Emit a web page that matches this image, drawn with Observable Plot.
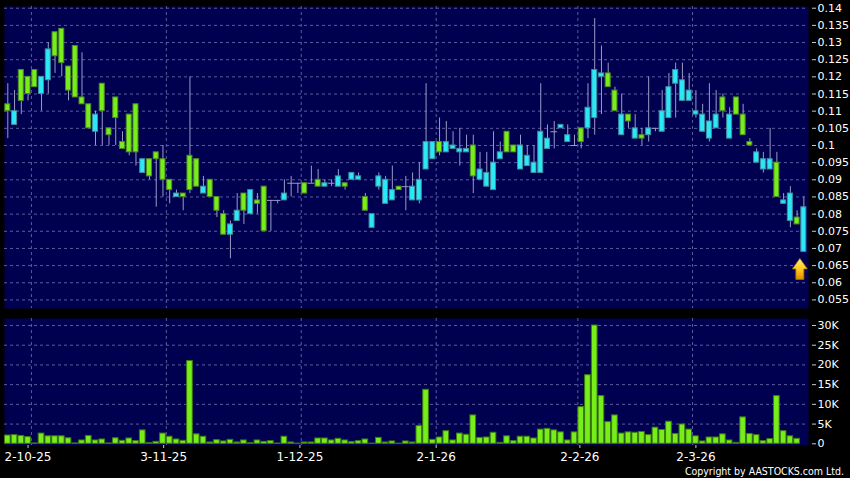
<!DOCTYPE html>
<html><head><meta charset="utf-8">
<script src="https://cdn.jsdelivr.net/npm/d3@7"></script>
<script src="https://cdn.jsdelivr.net/npm/@observablehq/plot@0.6"></script>
<style>
html,body{margin:0;padding:0;background:#000;}
#chart{position:relative;width:850px;height:478px;background:#000;overflow:hidden;}
#chart svg{display:block;}
#copy{position:absolute;right:6px;top:465px;line-height:12px;color:#fff;font-family:"DejaVu Sans Condensed","DejaVu Sans",sans-serif;font-stretch:condensed;font-size:10.5px;white-space:nowrap;}
</style></head><body>
<div id="chart"><div id="price"></div><div id="vol"></div><div id="copy">Copyright by AASTOCKS.com Ltd.</div></div>
<script>
const open = [0.110,0.110,0.113,0.115,0.117,0.120,0.128,0.126,0.124,0.116,
0.114,0.112,0.105,0.109,0.110,0.103,0.108,0.099,0.098,0.098,
0.096,0.091,0.096,0.090,0.087,0.086,0.085,0.087,0.088,0.088,
0.085,0.081,0.074,0.077,0.081,0.081,0.087,0.083,0.075,0.084,
0.084,0.086,0.089,0.089,0.086,0.089,0.088,0.089,0.089,0.091,
0.088,0.092,0.091,0.081,0.080,0.091,0.090,0.087,0.087,0.088,
0.088,0.090,0.101,0.101,0.098,0.101,0.100,0.099,0.099,0.091,
0.093,0.092,0.095,0.098,0.098,0.098,0.100,0.097,0.095,0.104,
0.102,0.104,0.106,0.103,0.100,0.101,0.111,0.122,0.121,0.117,
0.110,0.109,0.107,0.105,0.102,0.105,0.105,0.110,0.117,0.122,
0.119,0.116,0.110,0.109,0.107,0.109,0.110,0.109,0.109,0.103,
0.100,0.098,0.096,0.096,0.085,0.084,0.086,0.077,0.082];
const close = [0.112,0.106,0.122,0.120,0.122,0.115,0.119,0.133,0.134,0.123,
0.129,0.114,0.112,0.104,0.118,0.105,0.114,0.101,0.109,0.112,
0.092,0.096,0.098,0.096,0.090,0.085,0.086,0.097,0.096,0.086,
0.090,0.085,0.080,0.074,0.078,0.086,0.080,0.084,0.088,0.084,
0.084,0.084,0.089,0.089,0.089,0.089,0.090,0.088,0.089,0.088,
0.089,0.090,0.090,0.085,0.076,0.088,0.083,0.084,0.088,0.088,
0.084,0.084,0.093,0.096,0.101,0.098,0.099,0.098,0.098,0.100,
0.090,0.088,0.087,0.096,0.104,0.100,0.093,0.094,0.092,0.092,
0.099,0.104,0.105,0.101,0.100,0.105,0.105,0.108,0.120,0.121,
0.116,0.103,0.109,0.102,0.103,0.103,0.105,0.104,0.108,0.118,
0.113,0.113,0.109,0.104,0.102,0.105,0.114,0.102,0.114,0.109,
0.101,0.095,0.093,0.093,0.095,0.083,0.078,0.079,0.069];
const high = [0.118,0.116,0.122,0.120,0.122,0.120,0.130,0.133,0.134,0.123,
0.129,0.127,0.112,0.110,0.118,0.105,0.114,0.104,0.109,0.112,
0.096,0.096,0.098,0.100,0.090,0.087,0.086,0.120,0.096,0.091,
0.090,0.085,0.081,0.078,0.086,0.086,0.087,0.086,0.088,0.084,
0.084,0.090,0.091,0.089,0.089,0.094,0.093,0.090,0.090,0.093,
0.089,0.092,0.092,0.086,0.080,0.092,0.091,0.094,0.088,0.091,
0.092,0.095,0.118,0.101,0.108,0.107,0.104,0.105,0.103,0.103,
0.098,0.098,0.104,0.101,0.104,0.100,0.103,0.100,0.100,0.118,
0.106,0.107,0.106,0.106,0.103,0.105,0.118,0.137,0.129,0.124,
0.117,0.115,0.109,0.109,0.105,0.120,0.105,0.116,0.121,0.124,
0.124,0.121,0.116,0.112,0.118,0.116,0.115,0.111,0.114,0.112,
0.102,0.099,0.098,0.105,0.098,0.086,0.088,0.081,0.085];
const low = [0.102,0.106,0.109,0.113,0.117,0.110,0.115,0.121,0.120,0.113,
0.114,0.112,0.105,0.100,0.100,0.100,0.100,0.099,0.097,0.094,
0.092,0.090,0.082,0.085,0.083,0.085,0.081,0.086,0.088,0.086,
0.085,0.079,0.074,0.067,0.078,0.077,0.080,0.080,0.075,0.075,
0.083,0.084,0.085,0.086,0.086,0.089,0.088,0.088,0.088,0.088,
0.087,0.090,0.090,0.081,0.076,0.087,0.083,0.084,0.087,0.081,
0.084,0.083,0.093,0.096,0.097,0.098,0.099,0.094,0.098,0.086,
0.090,0.088,0.087,0.096,0.098,0.098,0.093,0.094,0.092,0.092,
0.099,0.099,0.105,0.101,0.100,0.099,0.102,0.103,0.109,0.117,
0.110,0.103,0.105,0.102,0.100,0.101,0.104,0.104,0.108,0.108,
0.113,0.113,0.108,0.104,0.101,0.105,0.108,0.102,0.109,0.103,
0.100,0.095,0.092,0.093,0.085,0.083,0.076,0.077,0.069];
const volume = [2100,2200,2000,1700,100,2600,1900,1900,1900,1400,
100,850,2000,850,1100,100,1400,760,1350,680,
3400,170,500,2600,1800,1100,760,21000,2400,1800,
340,930,600,1000,340,850,170,850,500,680,
80,1800,340,50,340,340,1350,1350,850,1270,
850,420,680,1100,50,1500,340,600,50,600,
340,4500,13700,1000,1600,3200,850,2600,2300,7200,
1500,1600,2800,250,1900,680,1800,1800,1350,3600,
3800,3400,2900,850,2900,9300,17400,30000,12100,5500,
7200,2600,2900,2800,3000,2200,4100,3500,5600,2500,
4900,3600,1900,600,1600,1600,2400,850,250,6700,
2500,2200,680,1200,12100,3200,1900,1270,0];
const priceTicks = [0.055,0.06,0.065,0.07,0.075,0.08,0.085,0.09,0.095,0.1,0.105,0.11,0.115,0.12,0.125,0.13,0.135,0.14];
const volTicks = [0,5000,10000,15000,20000,25000,30000];
const dateLabels = ["2-10-25","3-11-25","1-12-25","2-1-26","2-2-26","2-3-26"];
const dateTickIdx = [3,23.1,43.3,63.5,84.8,102];
const monthGridIdx = [3.5,23.5,43.5,63.5,84.5,101.5];

const n = open.length;
const candles = d3.range(n).map(i => ({i, o: open[i], h: high[i], l: low[i], c: close[i], v: volume[i]}));
const BG = "#000050", GRID = "#5c5c9c", WICK = "#9a9ac4";
const GREEN = "#77ee1a", GREEN_EDGE = "#4f8a26", CYAN = "#2ae8f6", CYAN_EDGE = "#3f8ea0";
const xDomain = [-0.49, n - 1 + 0.69];
const labelMap = new Map(dateTickIdx.map((d, k) => [d, dateLabels[k]]));

const arrowSymbol = {draw(ctx) {
  ctx.moveTo(0, -10.5); ctx.lineTo(7.5, 0); ctx.lineTo(4, 0); ctx.lineTo(4, 10.5);
  ctx.lineTo(-4, 10.5); ctx.lineTo(-4, 0); ctx.lineTo(-7.5, 0); ctx.closePath();
}};
const gradDefs = () => {
  const defs = d3.create("svg:defs");
  const g = defs.append("linearGradient").attr("id", "arrowGrad").attr("x1", 0).attr("y1", 0).attr("x2", 0).attr("y2", 1);
  g.append("stop").attr("offset", "0%").attr("stop-color", "#fff176");
  g.append("stop").attr("offset", "55%").attr("stop-color", "#ffc61a");
  g.append("stop").attr("offset", "100%").attr("stop-color", "#e08a00");
  return defs.node();
};

const common = {width: 850, marginLeft: 4, marginRight: 42,
  style: {background: "#000", color: "#fff", fontFamily: "DejaVu Sans", fontSize: "11px"}};

const price = Plot.plot({
  ...common, height: 310, marginTop: 6, marginBottom: 2,
  x: {type: "linear", domain: xDomain, axis: null},
  y: {domain: [0.0525, 0.1405]},
  marks: [
    gradDefs,
    Plot.frame({fill: BG, stroke: "none"}),
    Plot.ruleY(priceTicks, {stroke: GRID, strokeDasharray: "3,3"}),
    Plot.ruleX(monthGridIdx, {stroke: GRID, strokeDasharray: "3,3"}),
    Plot.ruleX(candles, {x: "i", y1: "l", y2: "h", stroke: WICK}),
    Plot.rect(candles.filter(d => d.o !== d.c), {
      x1: d => d.i - 0.37, x2: d => d.i + 0.37,
      y1: d => Math.min(d.o, d.c), y2: d => Math.max(d.o, d.c),
      fill: d => d.c > d.o ? GREEN : CYAN, stroke: d => d.c > d.o ? GREEN_EDGE : CYAN_EDGE, strokeWidth: 1
    }),
    Plot.ruleY(candles.filter(d => d.o === d.c), {x1: d => d.i - 0.5, x2: d => d.i + 0.5, y: "o", stroke: WICK}),
    Plot.dot([candles[n - 1]], {x: "i", y: "c", symbol: arrowSymbol, r: 10, fill: "url(#arrowGrad)", stroke: "#b07000", strokeWidth: 0.8, dx: -4, dy: 17}),
    Plot.axisY(priceTicks, {anchor: "right", label: null, tickSize: 4, tickPadding: 2, dx: 3, tickFormat: d => String(d), stroke: "#c8c8c8", fill: "#fff", fontSize: 11})
  ]
});

const vol = Plot.plot({
  ...common, height: 168, marginTop: 8, marginBottom: 33,
  x: {type: "linear", domain: xDomain},
  y: {domain: [-430, 31775]},
  marks: [
    Plot.frame({fill: BG, stroke: "none"}),
    Plot.ruleY(volTicks.filter(d => d > 0), {stroke: GRID, strokeDasharray: "3,3"}),
    Plot.ruleX(monthGridIdx, {stroke: GRID, strokeDasharray: "3,3"}),
    Plot.rectY(candles, {x1: d => d.i - 0.42, x2: d => d.i + 0.42, y: "v", fill: GREEN, stroke: "#3d7a10", strokeWidth: 1}),
    Plot.axisY(volTicks, {anchor: "right", label: null, tickSize: 4, tickPadding: 2, dx: 3, tickFormat: d => d === 0 ? "0" : (d / 1000) + "K", stroke: "#c8c8c8", fill: "#fff", fontSize: 11}),
    Plot.axisX(dateTickIdx, {anchor: "bottom", label: null, tickSize: 3, tickPadding: 4, tickFormat: d => labelMap.get(d), stroke: "#c8c8c8", fill: "#fff", fontSize: 12})
  ]
});

document.getElementById("price").append(price);
document.getElementById("vol").append(vol);
</script>
</body></html>
